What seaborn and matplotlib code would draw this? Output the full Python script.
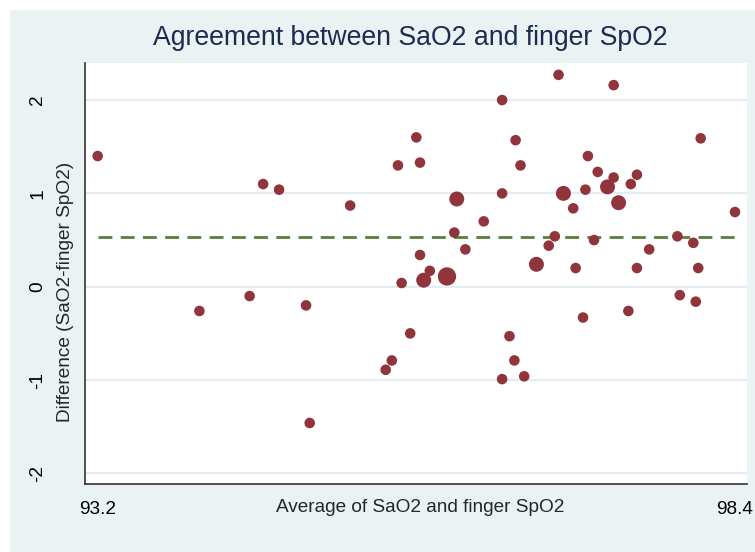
import numpy as np
import pandas as pd
import matplotlib
matplotlib.use("Agg")
import matplotlib.pyplot as plt
import seaborn as sns
from matplotlib.patches import Rectangle

# Bland-Altman data
avg = [93.20, 94.55, 94.68, 95.26, 94.03, 94.44, 94.90, 94.93,
       95.80, 95.65, 95.83, 96.13, 96.50, 96.61, 96.65, 96.50, 96.35, 96.11,
       96.20, 95.83, 95.91, 95.86, 96.05, 95.68, 95.75, 95.60, 95.55,
       96.56, 96.60, 96.50, 96.68, 96.78,
       96.96, 97.41, 98.12, 98.40,
       97.20, 97.28, 97.41, 97.60, 97.55, 97.36, 97.18, 97.00, 97.45, 97.08,
       96.93, 96.88, 97.25, 97.70, 97.93, 98.06, 97.10, 97.60, 98.10,
       97.16, 97.53, 97.95, 98.08]
diff = [1.40, 1.10, 1.04, 0.87, -0.26, -0.10, -0.20, -1.46,
        1.60, 1.30, 1.33, 0.94, 2.00, 1.57, 1.30, 1.00, 0.70, 0.58,
        0.40, 0.34, 0.17, 0.07, 0.11, 0.04, -0.50, -0.79, -0.89,
        -0.53, -0.79, -0.99, -0.96, 0.24,
        2.27, 2.16, 1.59, 0.80,
        1.40, 1.23, 1.17, 1.20, 1.10, 1.07, 1.04, 1.00, 0.90, 0.84,
        0.54, 0.44, 0.50, 0.40, 0.54, 0.47, 0.20, 0.20, 0.20,
        -0.33, -0.26, -0.09, -0.16]
freq = [1, 1, 1, 1, 1, 1, 1, 1,
        1, 1, 1, 2, 1, 1, 1, 1, 1, 1,
        1, 1, 1, 2, 3, 1, 1, 1, 1,
        1, 1, 1, 1, 2,
        1, 1, 1, 1,
        1, 1, 1, 1, 1, 2, 1, 2, 2, 1,
        1, 1, 1, 1, 1, 1, 1, 1, 1,
        1, 1, 1, 1]
mean_diff = 0.53
y_ticks = [-2, -1, 0, 1, 2]
x_ticks = [93.2, 98.4]

df = pd.DataFrame({"avg": avg, "diff": diff, "freq": freq})

bg = "#eaf2f3"
grid_c = "#e3ecf0"
marker_c = "#90353b"
line_c = "#5b7e3c"
title_c = "#1c2b50"

sns.set_style("white")
plt.rcParams["font.family"] = ["Liberation Sans", "DejaVu Sans"]

fig = plt.figure(figsize=(7.55, 5.52), dpi=100)
fig.patch.set_facecolor("white")
fig.patches.append(Rectangle((10 / 755, 0), 1, 1 - 10 / 552, transform=fig.transFigure,
                             facecolor=bg, edgecolor="none", zorder=-10))

ax = fig.add_axes([85.3 / 755, 1 - 484.3 / 552, (747 - 85.3) / 755, (484.3 - 63) / 552])
ax.set_facecolor("white")

for t in y_ticks:
    ax.axhline(t, color=grid_c, lw=1.6, zorder=0)

ax.plot([df["avg"].min(), df["avg"].max()], [mean_diff, mean_diff],
        color=line_c, lw=2, dashes=(5, 3), zorder=1)

sns.scatterplot(data=df, x="avg", y="diff", size="freq", sizes=(58, 174),
                size_norm=(1, 3), color=marker_c, linewidth=0, alpha=1,
                legend=False, ax=ax, zorder=2)

ax.set_xlim(93.099, 98.498)
ax.set_ylim(-2.117, 2.397)
ax.set_xticks(x_ticks)
ax.set_xticklabels([f"{v:.1f}" for v in x_ticks])
ax.set_yticks(y_ticks)
ax.set_yticklabels([str(v) for v in y_ticks], rotation=90, va="center")
ax.tick_params(axis="both", direction="out", length=7, width=1, color="#333333",
               labelsize=13.7, labelcolor="black")
ax.tick_params(axis="y", pad=21)
ax.tick_params(axis="x", pad=5)

for side in ["top", "right"]:
    ax.spines[side].set_visible(False)
for side in ["left", "bottom"]:
    ax.spines[side].set_color("#333333")
    ax.spines[side].set_linewidth(1.2)

ax.set_xlabel("")
ax.set_ylabel("")
# Stata places the axis title between the tick labels and the axis
fig.text(65 / 755, 1 - 292 / 552, "Difference (SaO2-finger SpO2)",
         rotation=90, ha="center", va="center", fontsize=13.7)
fig.text(420 / 755, 1 - 508 / 552, "Average of SaO2 and finger SpO2",
         ha="center", va="center", fontsize=13.7)
fig.text(410 / 755, 1 - 38 / 552, "Agreement between SaO2 and finger SpO2",
         ha="center", va="center", fontsize=19.2, color=title_c)

fig.savefig("out.png", dpi=100, facecolor=fig.get_facecolor())
